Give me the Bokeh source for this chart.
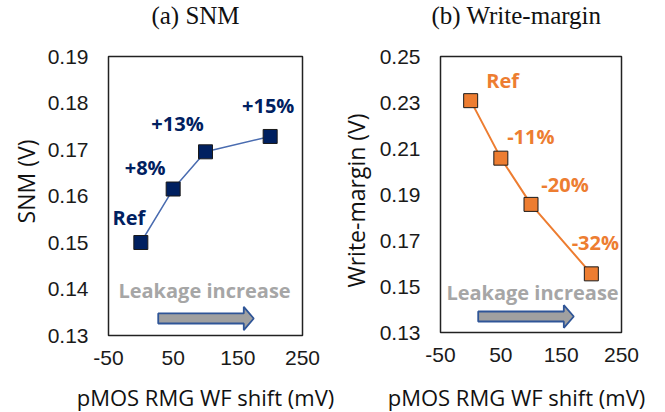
import math
from bokeh.plotting import figure
from bokeh.layouts import row, column
from bokeh.models import Range1d, FixedTicker, PrintfTickFormatter, PolyAnnotation, Label, ColumnDataSource
from bokeh.core.properties import value
from bokeh.embed import file_html
from bokeh.resources import INLINE

# ---- data ----
wf_shift = [0, 50, 100, 200]
snm = [0.150, 0.1615, 0.1695, 0.1728]
snm_labels = ["Ref", "+8%", "+13%", "+15%"]
wm = [0.2308, 0.2058, 0.1857, 0.1555]
wm_labels = ["Ref", "-11%", "-20%", "-32%"]
x_ticks = [-50, 50, 150, 250]
snm_ticks = [0.13, 0.14, 0.15, 0.16, 0.17, 0.18, 0.19]
wm_ticks = [0.13, 0.15, 0.17, 0.19, 0.21, 0.23, 0.25]
x_title = "pMOS RMG WF shift (mV)"

# ---- styles ----
NAVY = "#002060"
ORANGE = "#ED7D31"
GRAY = "#A6A6A6"
TXT = "#111111"
snm_dx = [-12, -28, -28, -2]
snm_dy = [-25, -22, -28, -31]
wm_dx = [32, 30, 34, 4]
wm_dy = [-20, -22, -20, -31]


def strip(xr, yr, text, tx, ty, font, size, angle=0.0, bt=0, fh=None, bb=0):
    """A blank figure holding one text (panel titles / axis titles)."""
    w = int(abs(xr[1] - xr[0]))
    if fh is None:
        fh = int(abs(yr[1] - yr[0]))
    s = figure(width=w, height=bt + fh + bb, frame_width=w, frame_height=fh,
               min_border_left=0, min_border_right=0, min_border_top=bt, min_border_bottom=bb,
               x_range=Range1d(*xr), y_range=Range1d(*yr),
               x_axis_type=None, y_axis_type=None, title=None,
               output_backend="svg", toolbar_location=None)
    s.grid.visible = False
    s.outline_line_color = None
    s.text(x=[tx], y=[ty], text=[text], angle=angle, text_font=value(font),
           text_font_size=size, text_color=TXT, text_align="center", text_baseline="middle")
    return s


def panel(y, labels, ticks, yr, color, line_color, line_w, text_color, dx, dy,
          w, bl, fw, bt, fh, bb, leak_xy, arrow):
    p = figure(width=w, height=bt + fh + bb, frame_width=fw, frame_height=fh,
               min_border_left=bl, min_border_right=w - bl - fw,
               min_border_top=bt, min_border_bottom=bb, title=None,
               x_range=Range1d(-50, 250), y_range=Range1d(*yr),
               output_backend="svg", toolbar_location=None)
    p.grid.visible = False
    p.outline_line_color = "#222222"
    p.outline_line_width = 1.5
    for ax in (p.xaxis[0], p.yaxis[0]):
        ax.axis_line_color = None
        ax.major_tick_line_color = None
        ax.minor_tick_line_color = None
        ax.major_tick_out = 0
        ax.major_tick_in = 0
        ax.major_label_text_font = "Liberation Sans"
        ax.major_label_text_font_size = "21px"
        ax.major_label_text_color = "#1a1a1a"
    p.xaxis.ticker = FixedTicker(ticks=x_ticks)
    p.xaxis.formatter = PrintfTickFormatter(format="%d")
    p.xaxis.major_label_standoff = 15
    p.yaxis.ticker = FixedTicker(ticks=ticks)
    p.yaxis.formatter = PrintfTickFormatter(format="%.2f")
    p.yaxis.major_label_standoff = 20

    src = ColumnDataSource(dict(x=wf_shift, y=y, lab=labels, dx=dx, dy=dy))
    p.line("x", "y", source=src, line_color=line_color, line_width=line_w)
    p.scatter("x", "y", source=src, marker="square", size=14, fill_color=color,
              line_color="#1a1a1a", line_width=1)
    p.text("x", "y", text="lab", source=src, x_offset="dx", y_offset="dy",
           text_font=value("Open Sans"), text_font_style="bold", text_font_size="20px",
           text_color=text_color, text_align="center", text_baseline="middle")

    lx, ly = leak_xy
    p.add_layout(Label(x=lx, y=ly, text="Leakage increase", text_font="Open Sans",
                       text_font_style="bold", text_font_size="20px", text_color=GRAY,
                       text_align="center", text_baseline="middle"))
    x0, xb, xt_, yc, hs, hh = arrow
    xs = [x0, xb, xb, xt_, xb, xb, x0]
    ys = [yc - hs, yc - hs, yc - hh, yc, yc + hh, yc + hs, yc + hs]
    p.add_layout(PolyAnnotation(xs=xs, ys=ys, fill_color="#A0A0A0", fill_alpha=1,
                                line_color="#2F5597", line_alpha=1, line_width=1.8))
    return p


# top row: panel titles (coordinates = page pixels)
t1 = strip((0, 340), (30, 0), "(a) SNM", 195, 15, "Liberation Serif", "25px")
t2 = strip((340, 665), (30, 0), "(b) Write-margin", 516, 15, "Liberation Serif", "25px")

# middle row: y titles + panels
yl1 = strip((0, 40), (332, 53), "SNM (V)", 25, 178, "Open Sans", "23px", math.pi / 2,
            bt=23, fh=279, bb=50)
p1 = panel(snm, snm_labels, snm_ticks, (0.13, 0.19), NAVY, "#4A6CB0", 1.5, NAVY,
           snm_dx, snm_dy, 300, 68, 194, 23, 279, 50, (98.5, 0.1397),
           (26.9, 159.2, 174.6, 0.13366, 0.00108, 0.00251))
yl2 = strip((340, 372), (332, 56), "Write-margin (V)", 355, 200, "Open Sans", "23px", math.pi / 2,
            bt=26, fh=276, bb=50)
p2 = panel(wm, wm_labels, wm_ticks, (0.13, 0.25), ORANGE, ORANGE, 2, ORANGE,
           wm_dx, wm_dy, 293, 68, 181, 26, 276, 50, (102.5, 0.1474),
           (12.5, 154.4, 170.9, 0.13696, 0.00217, 0.00491))

# bottom row: x titles
b1 = strip((0, 340), (412, 382), x_title, 205, 396, "Open Sans", "22px")
b2 = strip((340, 665), (412, 382), x_title, 516, 396, "Open Sans", "22px")

layout = column(row(t1, t2), row(yl1, p1, yl2, p2), row(b1, b2))
open("out.html", "w").write(file_html(layout, INLINE))
